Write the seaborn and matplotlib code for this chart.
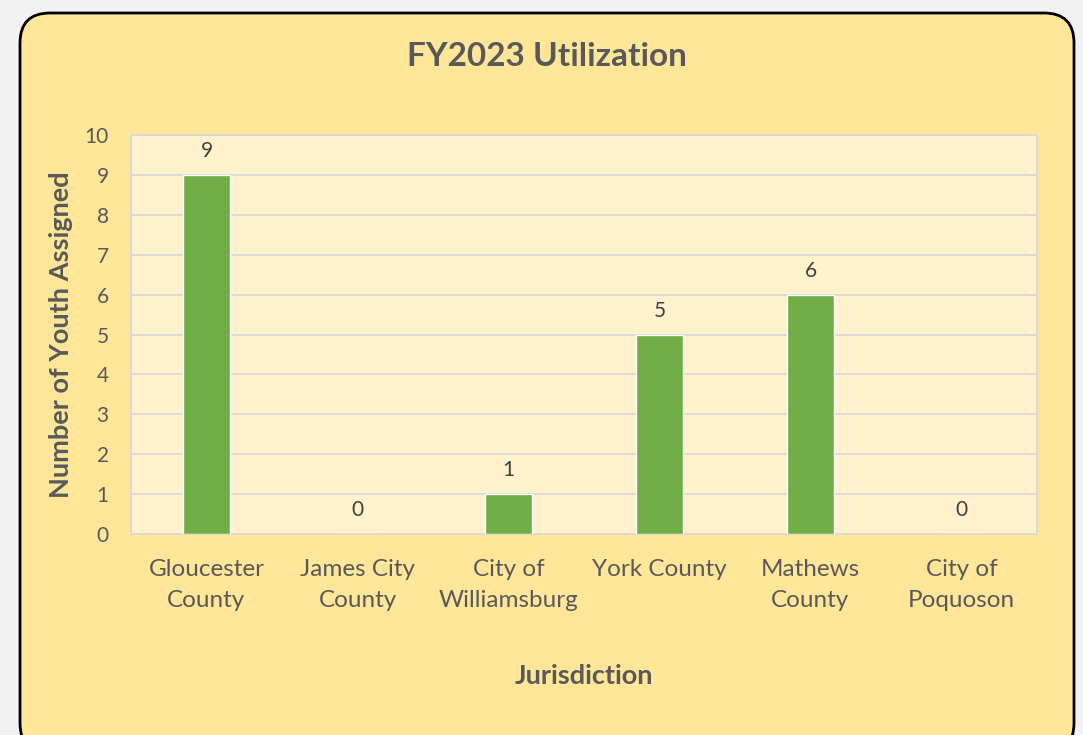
import matplotlib
matplotlib.use("Agg")
import matplotlib.pyplot as plt
from matplotlib.patches import FancyBboxPatch
import seaborn as sns
import pandas as pd

# datos
jurisdicciones = ["Gloucester\nCounty", "James City\nCounty", "City of\nWilliamsburg",
                  "York County", "Mathews\nCounty", "City of\nPoquoson"]
jovenes = [9, 0, 1, 5, 6, 0]

df = pd.DataFrame({"jurisdiccion": jurisdicciones, "jovenes": jovenes})

sns.set_style("white")
plt.rcParams["font.family"] = ["Lato", "DejaVu Sans"]

gris = "#595959"
fig = plt.figure(figsize=(10.83, 7.35), dpi=100)
fig.patch.set_facecolor("#F2F2F2")

# fondo redondeado del gráfico (en píxeles)
fondo = fig.add_axes([0, 0, 1, 1], zorder=-5)
fondo.set_xlim(0, 1083)
fondo.set_ylim(735, 0)
fondo.axis("off")
fondo.add_patch(FancyBboxPatch((20, 13), 1054, 740,
                               boxstyle="round,pad=0,rounding_size=30",
                               facecolor="#FFE699", edgecolor="black", linewidth=2))

ax = fig.add_axes([131 / 1083, 1 - 534 / 735, 906 / 1083, 399 / 735])
ax.set_facecolor("#FFF2CC")

sns.barplot(data=df, x="jurisdiccion", y="jovenes", color="#70AD47",
            width=0.31, saturation=1, ax=ax, zorder=3)

ax.set_ylim(0, 10)
ax.set_yticks(range(0, 11))
ax.grid(axis="y", color="#D9D9D9", linewidth=1.3, zorder=0)
ax.set_axisbelow(True)
for s in ax.spines.values():
    s.set_color("#D9D9D9")
    s.set_linewidth(1.3)

for i, v in enumerate(jovenes):
    ax.text(i, v + 0.35, str(v), ha="center", va="bottom", fontsize=15, color="#404040")

ax.tick_params(axis="both", length=0, labelcolor=gris)
ax.tick_params(axis="x", labelsize=17.5, pad=18)
ax.tick_params(axis="y", labelsize=15, pad=16)
for lbl in ax.get_xticklabels():
    lbl.set_linespacing(1.6)
for lbl in ax.get_yticklabels():
    lbl.set_horizontalalignment("right")

ax.set_xlabel("Jurisdiction", fontsize=19.5, fontweight="bold", color=gris, labelpad=38)
ax.set_ylabel("Number of Youth Assigned", fontsize=19.5, fontweight="bold", color=gris, labelpad=8)

fig.text(547 / 1083, 1 - 57 / 735, "FY2023 Utilization", ha="center", va="center",
         fontsize=24, fontweight="bold", color=gris)

fig.savefig("out.png", dpi=100, facecolor=fig.get_facecolor())
